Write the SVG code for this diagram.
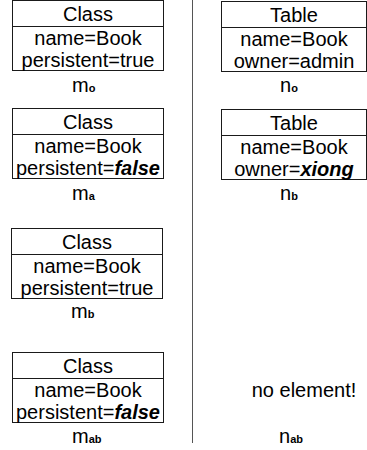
<svg xmlns="http://www.w3.org/2000/svg" width="367" height="450" viewBox="0 0 367 450">
<style>
.box{fill:#fff;stroke:#1a1a1a;stroke-width:1}
.div{stroke:#1a1a1a;stroke-width:1}
.t{font-family:"Liberation Sans",Arial,sans-serif;font-size:20px;fill:#000}
.c{text-anchor:middle}
.bi{font-weight:bold;font-style:italic}
.sub{font-size:11px;font-weight:bold}
.sep{stroke:#555;stroke-width:1}
</style>
<rect width="367" height="450" fill="#fff"/>
<g id="separator">
<line class="sep" x1="192.5" y1="0" x2="192.5" y2="443"/>
</g>
<g id="m0">
<rect class="box" x="12.5" y="0.5" width="151" height="70"/>
<line class="div" x1="12.5" y1="26.5" x2="163.5" y2="26.5"/>
<text class="t c" x="88" y="20.5">Class</text>
<text class="t c" x="88" y="45">name=Book</text>
<text class="t c" x="88" y="67">persistent=true</text>
<text class="t" x="72" y="91.5">m<tspan class="sub">o</tspan></text>
</g>
<g id="ma">
<rect class="box" x="12.5" y="108.5" width="151" height="70"/>
<line class="div" x1="12.5" y1="134.5" x2="163.5" y2="134.5"/>
<text class="t c" x="88" y="128.5">Class</text>
<text class="t c" x="88" y="153">name=Book</text>
<text class="t c" x="88" y="175">persistent=<tspan class="bi">false</tspan></text>
<text class="t" x="72" y="199.5">m<tspan class="sub">a</tspan></text>
</g>
<g id="mb">
<rect class="box" x="11.5" y="228.5" width="151" height="70"/>
<line class="div" x1="11.5" y1="254.5" x2="162.5" y2="254.5"/>
<text class="t c" x="87" y="248.5">Class</text>
<text class="t c" x="87" y="273">name=Book</text>
<text class="t c" x="87" y="295">persistent=true</text>
<text class="t" x="71" y="318">m<tspan class="sub">b</tspan></text>
</g>
<g id="mab">
<rect class="box" x="12.5" y="352.5" width="151" height="70"/>
<line class="div" x1="12.5" y1="378.5" x2="163.5" y2="378.5"/>
<text class="t c" x="88" y="372.5">Class</text>
<text class="t c" x="88" y="397">name=Book</text>
<text class="t c" x="88" y="419">persistent=<tspan class="bi">false</tspan></text>
<text class="t" x="72" y="443">m<tspan class="sub">ab</tspan></text>
</g>
<g id="n0">
<rect class="box" x="221.5" y="1.5" width="145" height="70"/>
<line class="div" x1="221.5" y1="27.5" x2="366.5" y2="27.5"/>
<text class="t c" x="294" y="21.5">Table</text>
<text class="t c" x="294" y="46">name=Book</text>
<text class="t c" x="294" y="68">owner=admin</text>
<text class="t" x="280" y="91.5">n<tspan class="sub">o</tspan></text>
</g>
<g id="nb">
<rect class="box" x="221.5" y="109.5" width="145" height="70"/>
<line class="div" x1="221.5" y1="135.5" x2="366.5" y2="135.5"/>
<text class="t c" x="294" y="129.5">Table</text>
<text class="t c" x="294" y="154">name=Book</text>
<text class="t c" x="294" y="176">owner=<tspan class="bi">xiong</tspan></text>
<text class="t" x="280" y="199.5">n<tspan class="sub">b</tspan></text>
</g>
<g id="nab">
<text class="t c" x="304" y="397">no element!</text>
<text class="t" x="279" y="443">n<tspan class="sub">ab</tspan></text>
</g>
</svg>
